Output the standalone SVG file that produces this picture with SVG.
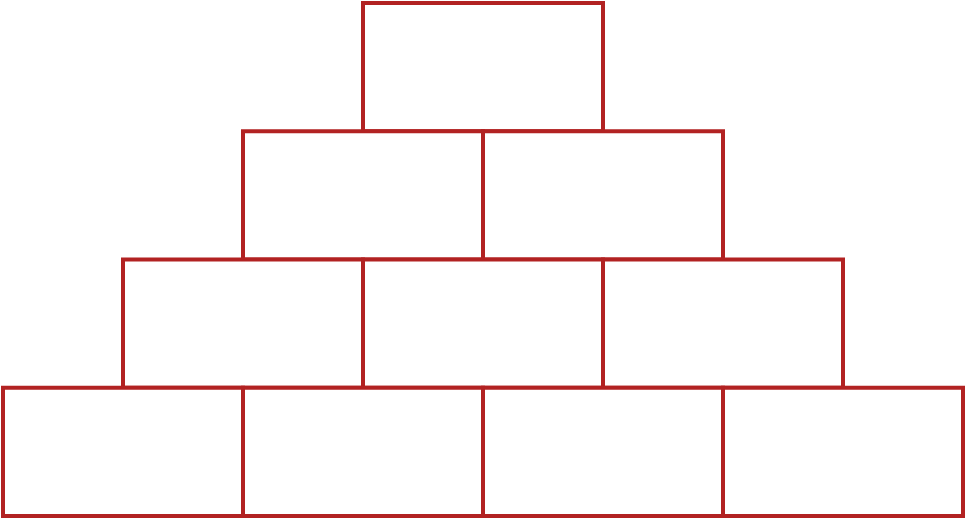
<svg xmlns="http://www.w3.org/2000/svg" width="965" height="519" viewBox="0 0 965 519">
<style>
.b{fill:#ffffff;stroke:#B22222;stroke-width:4}
</style>
<rect width="965" height="519" fill="#ffffff"/>
<g id="r1c1"><rect class="b" x="363" y="3" width="240" height="128.25"/></g>
<g id="r2c1"><rect class="b" x="243" y="131.25" width="240" height="128.25"/></g>
<g id="r2c2"><rect class="b" x="483" y="131.25" width="240" height="128.25"/></g>
<g id="r3c1"><rect class="b" x="123" y="259.5" width="240" height="128.25"/></g>
<g id="r3c2"><rect class="b" x="363" y="259.5" width="240" height="128.25"/></g>
<g id="r3c3"><rect class="b" x="603" y="259.5" width="240" height="128.25"/></g>
<g id="r4c1"><rect class="b" x="3" y="387.75" width="240" height="128.25"/></g>
<g id="r4c2"><rect class="b" x="243" y="387.75" width="240" height="128.25"/></g>
<g id="r4c3"><rect class="b" x="483" y="387.75" width="240" height="128.25"/></g>
<g id="r4c4"><rect class="b" x="723" y="387.75" width="240" height="128.25"/></g>
<g id="connectors"></g>
</svg>
